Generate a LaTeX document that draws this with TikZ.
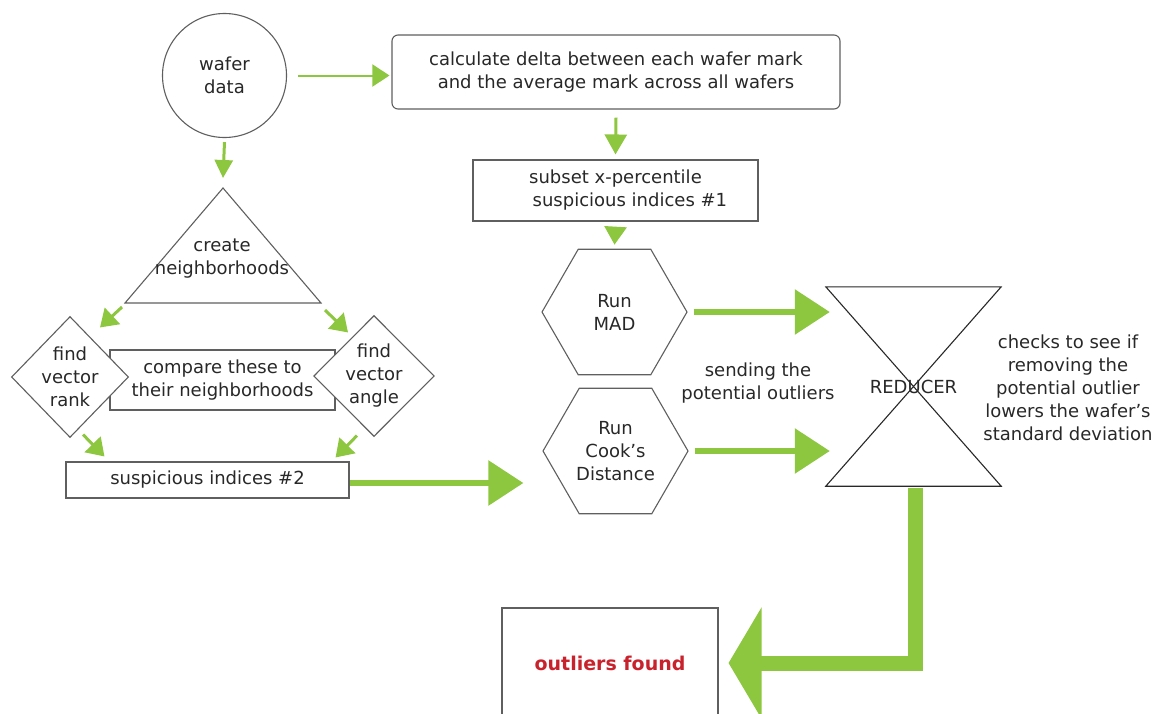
\documentclass[tikz,border=0pt]{standalone}
\usepackage{fontspec}
\setmainfont{DejaVu Sans}
\usetikzlibrary{arrows.meta,shapes.geometric}
\definecolor{leaf}{RGB}{141,198,63}
\definecolor{ink}{RGB}{40,40,40}
\definecolor{rim}{RGB}{95,95,95}
\definecolor{alert}{RGB}{200,35,45}

\begin{document}
\begin{tikzpicture}[x=1pt,y=-1pt,
  every node/.style={font=\fontsize{18}{23}\selectfont,text=ink,align=center},
  box/.style={draw=rim,line width=1.1pt,fill=white,inner sep=0pt},
  hexa/.style={box,regular polygon,regular polygon sides=6,minimum size=145pt},
  kite/.style={box,diamond,minimum width=116pt,minimum height=121pt},
  flow/.style={leaf,line width=3pt,-{Triangle[length=17pt,width=22pt]}},
  bigflow/.style={leaf,line width=6pt,-{Triangle[length=35pt,width=44pt]}}]
  \useasboundingbox (0,0) rectangle (1164,713);
  \clip (0,0) rectangle (1164,713);

  \node[box,circle,minimum size=124pt] (data) at (224.5,75.5) {wafer\\data};
  \node[box,rounded corners=6pt,minimum width=448pt,minimum height=74pt] (delta) at (616,72)
    {calculate delta between each wafer mark\\and the average mark across all wafers};
  \node[box,minimum width=285pt,minimum height=61pt] (subset) at (615.5,190.5)
    {subset x-percentile\\\hspace*{1.6em}suspicious indices \#1};

  \coordinate (apex) at (223,188);
  \coordinate (hl) at (125,303);
  \coordinate (hr) at (321,303);
  \draw[rim,line width=1.1pt] (apex) -- (hr) -- (hl) -- cycle;
  \node (hood) at (222,259) {create\\neighborhoods};

  \node[box,minimum width=225pt,minimum height=60pt] (comp) at (222.5,380) {compare these to\\their neighborhoods};
  \node[kite] (rank) at (70,377) {find\\vector\\rank};
  \node[kite] (angle) at (374,376) {find\\vector\\angle};
  \node[box,minimum width=283pt,minimum height=36pt] (sus) at (207.5,480) {suspicious indices \#2};

  \node[hexa] (mad) at (614.5,312) {Run\\MAD};
  \node[hexa] (cook) at (615.5,451) {Run\\Cook’s\\Distance};
  \node (send) at (758,383) {sending the\\potential outliers};

  \node[minimum width=175pt,minimum height=199pt,inner sep=0pt] (red) at (913.5,386.5) {REDUCER};
  \draw[ink,line width=1.1pt] (red.north west) -- (red.north east) -- (red.south west) -- (red.south east) -- cycle;
  \node (checks) at (1068,388) {checks to see if\\removing the\\potential outlier\\lowers the wafer’s\\standard deviation};

  \node[box,minimum width=216pt,minimum height=110pt,text=alert,font=\fontsize{19}{23}\selectfont\bfseries] (found) at (610,663) {outliers found};

  \draw[leaf,line width=2pt,-{Triangle[length=17pt,width=22pt]}] ([xshift=11pt]data.east) -- ([xshift=-2pt]data.east -| delta.west);
  \draw[flow,-{Triangle[length=18pt,width=18pt]}] ([yshift=-4pt]data.south) -- ([yshift=10pt]apex);
  \draw[flow,-{Triangle[length=20pt,width=22pt]}] ([yshift=-8pt]delta.south) -- ([yshift=5pt]subset.north);
  \draw[flow,-{Triangle[length=18pt,width=22pt]}] ([yshift=-6pt]subset.south) -- ([yshift=4pt]mad.north);

  \draw[flow] ([shift={(-3,4)}]hl) -- ([shift={(30,11.5)}]rank.north);
  \draw[flow] ([shift={(4,7)}]hr) -- ([shift={(-26,17.5)}]angle.north);
  \draw[flow] ([shift={(13,-3.5)}]rank.south) -- ([shift={(39,-5)}]sus.north west);
  \draw[flow] ([shift={(-17,-1.5)}]angle.south) -- ([shift={(-14,-4)}]sus.north east);

  \draw[bigflow] ([yshift=-3pt]sus.east) -- ([xshift=-19pt,yshift=-3pt]sus.east -| cook.west);
  \draw[bigflow] ([xshift=6pt]mad.east) -- ([xshift=4pt]mad.east -| red.west);
  \draw[bigflow] ([xshift=6pt]cook.east) -- ([xshift=4pt]cook.east -| red.west);
  \draw[leaf,line width=15pt,-{Triangle[length=33pt,width=110pt]}] ([xshift=1.5pt,yshift=-2pt]red.south) |- ([xshift=10pt]found.east);
\end{tikzpicture}
\end{document}
